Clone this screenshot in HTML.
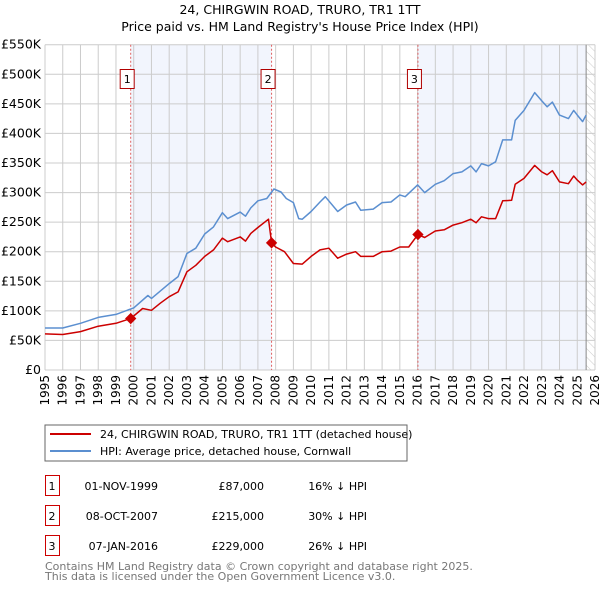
<!DOCTYPE html>
<html><head><meta charset="utf-8"><style>
body{margin:0;background:#fff;width:600px;height:590px;overflow:hidden;font-family:"DejaVu Sans","Liberation Sans",sans-serif}
svg text{font-family:"DejaVu Sans","Liberation Sans",sans-serif}
</style></head><body>
<svg id="c" width="600" height="590" xmlns="http://www.w3.org/2000/svg">
<defs><pattern id="hatch" width="6" height="6" patternUnits="userSpaceOnUse" patternTransform="rotate(-45)"><line x1="0" y1="0" x2="0" y2="6" stroke="#ccc" stroke-width="1"/></pattern></defs>
<text x="300" y="14" text-anchor="middle" font-size="12.5" fill="#000">24, CHIRGWIN ROAD, TRURO, TR1 1TT</text>
<text x="300" y="31" text-anchor="middle" font-size="12.5" fill="#000">Price paid vs. HM Land Registry's House Price Index (HPI)</text>
<g id="plot"></g>
<g>
<rect x="45" y="425" width="362" height="36" fill="#fff" stroke="#666"/>
<line x1="50" y1="434" x2="91" y2="434" stroke="#cc0000" stroke-width="2"/>
<text x="100" y="438" font-size="11">24, CHIRGWIN ROAD, TRURO, TR1 1TT (detached house)</text>
<line x1="50" y1="451" x2="91" y2="451" stroke="#5b8fd0" stroke-width="2"/>
<text x="100" y="455" font-size="11">HPI: Average price, detached house, Cornwall</text>
</g>
<g id="table" font-size="11"></g>
<text x="45" y="570" font-size="11" fill="#777">Contains HM Land Registry data © Crown copyright and database right 2025.</text>
<text x="45" y="580" font-size="11" fill="#777">This data is licensed under the Open Government Licence v3.0.</text>
</svg>
<script>
const hpiYears=[1995,1996,1997,1998,1999,2000,2000.8,2001,2002,2002.5,2003,2003.5,2004,2004.5,2005,2005.3,2006,2006.3,2006.6,2007,2007.5,2007.9,2008.3,2008.6,2009,2009.3,2009.5,2010,2010.5,2010.8,2011.5,2012,2012.5,2012.8,2013.5,2014,2014.5,2015,2015.3,2016,2016.4,2017,2017.5,2018,2018.5,2019,2019.3,2019.6,2020,2020.4,2020.8,2021.3,2021.5,2022,2022.6,2023,2023.3,2023.6,2024,2024.5,2024.8,2025,2025.3,2025.5];
const hpiValues=[71,71,79,89,94,105,126,121,146,158,197,206,230,242,266,256,267,260,274,286,290,306,301,290,283,256,255,268,284,293,268,279,284,270,272,283,284,296,293,313,300,314,320,332,335,345,335,349,345,352,389,389,422,439,469,455,445,453,431,425,439,431,420,431];
const ppYears=[1995,1996,1997,1998,1999,1999.83,2000.5,2001,2001.5,2002,2002.5,2003,2003.5,2004,2004.5,2005,2005.3,2006,2006.3,2006.6,2007,2007.6,2007.77,2008,2008.5,2009,2009.5,2010,2010.5,2011,2011.5,2012,2012.5,2012.8,2013.5,2014,2014.5,2015,2015.5,2016.02,2016.4,2017,2017.5,2018,2018.5,2019,2019.3,2019.6,2020,2020.4,2020.8,2021.3,2021.5,2022,2022.6,2023,2023.3,2023.6,2024,2024.5,2024.8,2025,2025.3,2025.5];
const ppValues=[61,60,65,74,79,87,104,101,113,124,132,166,177,192,203,223,217,225,218,231,241,255,215,208,200,180,179,192,203,206,189,196,200,192,192,200,201,208,208,229,224,235,237,245,249,255,249,259,256,256,286,287,314,324,346,335,330,337,318,315,328,321,313,318];
const saleYears=[1999.83,2007.77,2016.02];
const saleValues=[87,215,229];
const saleLabels=["1","2","3"];
const saleDates=["01-NOV-1999","08-OCT-2007","07-JAN-2016"];
const salePrices=["£87,000","£215,000","£229,000"];
const saleDiffs=["16% ↓ HPI","30% ↓ HPI","26% ↓ HPI"];
const yTicks=[0,50,100,150,200,250,300,350,400,450,500,550];
const yTickLabels=["£0","£50K","£100K","£150K","£200K","£250K","£300K","£350K","£400K","£450K","£500K","£550K"];
const xTicks=[1995,1996,1997,1998,1999,2000,2001,2002,2003,2004,2005,2006,2007,2008,2009,2010,2011,2012,2013,2014,2015,2016,2017,2018,2019,2020,2021,2022,2023,2024,2025,2026];
const dataEnd=2025.5;

const L=45,R=595,T=44.7,B=370,X0=1995,X1=2026,YMAX=550;
const xs=v=>L+(v-X0)/(X1-X0)*(R-L);
const ys=v=>B-v/YMAX*(B-T);
const NS="http://www.w3.org/2000/svg";
const plot=document.getElementById('plot');
function mk(tag,attrs,parent){const e=document.createElementNS(NS,tag);for(const k in attrs)e.setAttribute(k,attrs[k]);(parent||plot).appendChild(e);return e;}

let e;
e=mk('rect',{x:L,y:T,width:R-L,height:B-T,fill:'#fff'});


e=mk('rect',{x:xs(saleYears[0]),y:T,width:xs(saleYears[1])-xs(saleYears[0]),height:B-T,fill:'#f2f5fd'});


e=mk('rect',{x:xs(saleYears[2]),y:T,width:xs(dataEnd)-xs(saleYears[2]),height:B-T,fill:'#f2f5fd'});


e=mk('rect',{x:xs(dataEnd),y:T,width:R-xs(dataEnd),height:B-T,fill:'url(#hatch)'});


yTicks.forEach((v,i)=>{
  const g=mk('line',{x1:L,x2:R,y1:ys(v),y2:ys(v),stroke:'#ccc','stroke-width':1});
  
  
  const t=mk('text',{x:L-4,y:ys(v)+4,'text-anchor':'end','font-size':12.5,fill:'#000'});
  t.textContent=yTickLabels[i];
  
  
});
xTicks.forEach(v=>{
  const g=mk('line',{x1:xs(v),x2:xs(v),y1:T,y2:B,stroke:'#ccc','stroke-width':1});
  
  
  const t=mk('text',{x:0,y:0,'text-anchor':'end','font-size':12,fill:'#000',transform:`translate(${xs(v)+4},${B+5}) rotate(-90)`});
  t.textContent=String(v);
  
  
});
e=mk('line',{x1:xs(dataEnd),x2:xs(dataEnd),y1:T,y2:B,stroke:'#888','stroke-width':1});


saleYears.forEach((v,i)=>{
  const l=mk('line',{x1:xs(v),x2:xs(v),y1:T,y2:B,stroke:'#e06060','stroke-width':1,'stroke-dasharray':'2,2'});
  
  
  const r=mk('rect',{x:xs(v)-10.5,y:69.5,width:14,height:19,fill:'#fff',stroke:'#b00000'});
  
  
  const t=mk('text',{x:xs(v)-3.5,y:83,'text-anchor':'middle','font-size':11});
  t.textContent=saleLabels[i];
  
  
});
function path(xsA,vs,color,name){
  const d=xsA.map((x,i)=>(i?'L':'M')+xs(x).toFixed(1)+','+ys(vs[i]).toFixed(1)).join('');
  const p=mk('path',{d:d,fill:'none',stroke:color,'stroke-width':1.5,'stroke-linejoin':'round'});
  
  
}
path(hpiYears,hpiValues,'#5b8fd0','hpi-line');
path(ppYears,ppValues,'#cc0000','price-paid-line');
saleYears.forEach((v,i)=>{
  const c=mk('rect',{x:xs(v)-4,y:ys(saleValues[i])-4,width:8,height:8,fill:'#cc0000',transform:`rotate(45 ${xs(v)} ${ys(saleValues[i])})`});
  
  
});
const tb=document.getElementById('table');
saleLabels.forEach((lab,i)=>{
  const y0=475+i*30;
  const r=mk('rect',{x:45.5,y:y0+0.5,width:14,height:20,fill:'#fff',stroke:'#cc0000'},tb);
  
  
  const cols=[[52,'middle',lab,'table-row-number'],[158,'end',saleDates[i],'table-row-date'],[264,'end',salePrices[i],'table-row-price'],[367,'end',saleDiffs[i],'table-row-diff']];
  cols.forEach(c=>{
    const t=mk('text',{x:c[0],y:y0+15,'text-anchor':c[1],'font-size':11},tb);
    t.textContent=c[2];
    
    
  });
});
</script>
</body></html>
